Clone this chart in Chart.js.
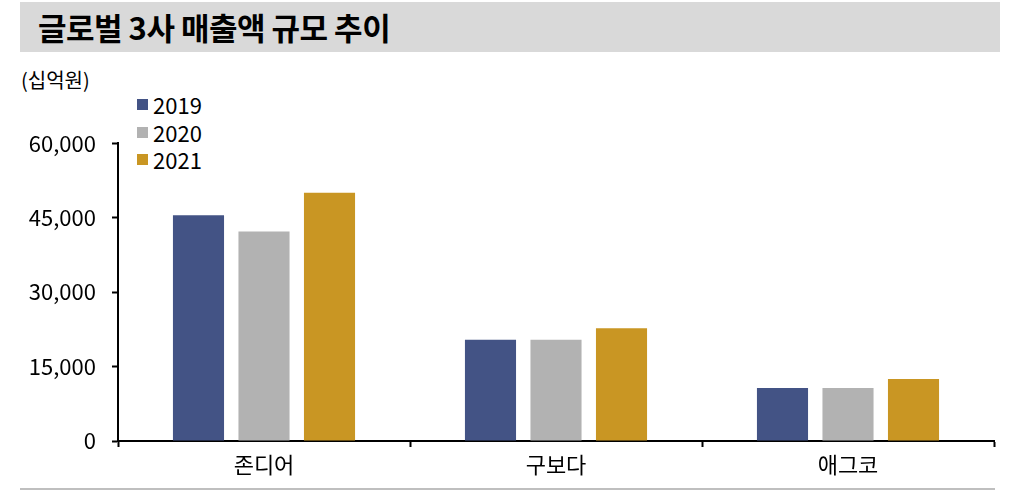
<!DOCTYPE html>
<html>
<head>
<meta charset="utf-8">
<script src="https://cdn.jsdelivr.net/npm/chart.js@4"></script>
<style>
  body { margin: 0; width: 1020px; height: 492px; background: #fff; position: relative; overflow: hidden;
         font-family: "Noto Sans CJK KR", "Noto Sans", sans-serif; }
  #title { position: absolute; left: 20px; top: 2px; width: 980px; height: 50px; background: #d9d9d9; }
  #title span { position: absolute; left: 18px; top: 2px; font-size: 31px; font-weight: bold; color: #000; letter-spacing: -0.5px; }
  #unit { position: absolute; left: 21px; top: 65px; font-size: 20px; color: #000; }
  #legend { position: absolute; left: 137px; top: 91px; font-size: 22px; color: #000; }
  #legend div { height: 27.5px; line-height: 27px; display: flex; align-items: center; }
  #legend i { display: inline-block; width: 11px; height: 11px; margin-right: 5px; }
  #wrap { position: absolute; left: 0; top: 114px; width: 1020px; height: 378px; }
  #bottomLine { position: absolute; left: 20px; top: 488px; width: 975px; height: 2px; background: #bfbfbf; }
</style>
</head>
<body>
<div id="title"><span>글로벌 3사 매출액 규모 추이</span></div>
<div id="unit">(십억원)</div>
<div id="legend"></div>
<div id="wrap"><canvas id="chart"></canvas></div>
<div id="bottomLine"></div>
<script>
const categories = ['존디어', '구보다', '애그코'];
const years = ['2019', '2020', '2021'];
const sales2019 = [45500, 20400, 10700];
const sales2020 = [42200, 20400, 10700];
const sales2021 = [50000, 22700, 12500];
const colors = ['#435385', '#b2b2b2', '#c99623'];
const yTicks = [0, 15000, 30000, 45000, 60000];

const series = [sales2019, sales2020, sales2021];

// legend (html)
const legendEl = document.getElementById('legend');
years.forEach((y, i) => {
    const row = document.createElement('div');
    row.innerHTML = '<i style="background:' + colors[i] + '"></i>' + y;
    legendEl.appendChild(row);
});

const ctx = document.getElementById('chart').getContext('2d');
new Chart(ctx, {
    type: 'bar',
    data: {
        labels: categories,
        datasets: years.map((y, i) => ({
            label: y,
            data: series[i],
            backgroundColor: colors[i],
            categoryPercentage: 0.673,
            barPercentage: 0.78
        }))
    },
    options: {
        responsive: true,
        maintainAspectRatio: false,
        animation: false,
        layout: { padding: { top: 0, right: 26, left: 0, bottom: 0 } },
        plugins: { legend: { display: false }, tooltip: { enabled: false } },
        scales: {
            x: {
                grid: {
                    drawOnChartArea: false, offset: true, tickLength: 6, tickWidth: 2,
                    // no tick mark at the right end of the axis
                    tickColor: (c) => c.index >= categories.length ? 'rgba(0,0,0,0)' : '#000'
                },
                border: { color: '#000', width: 2 },
                ticks: { color: '#000', font: { size: 22, family: '"Noto Sans CJK KR"' }, padding: 4 },
                afterFit: (scale) => { scale.height = 51; }
            },
            y: {
                min: 0,
                max: 60000,
                afterBuildTicks: (scale) => { scale.ticks = yTicks.map(v => ({ value: v })); },
                grid: { drawOnChartArea: false, tickLength: 6, tickColor: '#000', tickWidth: 2 },
                border: { color: '#000', width: 2 },
                ticks: {
                    color: '#000',
                    font: { size: 22, family: '"Noto Sans CJK KR"' },
                    padding: 16,
                    callback: (v) => v.toLocaleString('en-US')
                },
                afterFit: (scale) => { scale.width = 118; }
            }
        }
    }
});
</script>
</body>
</html>
